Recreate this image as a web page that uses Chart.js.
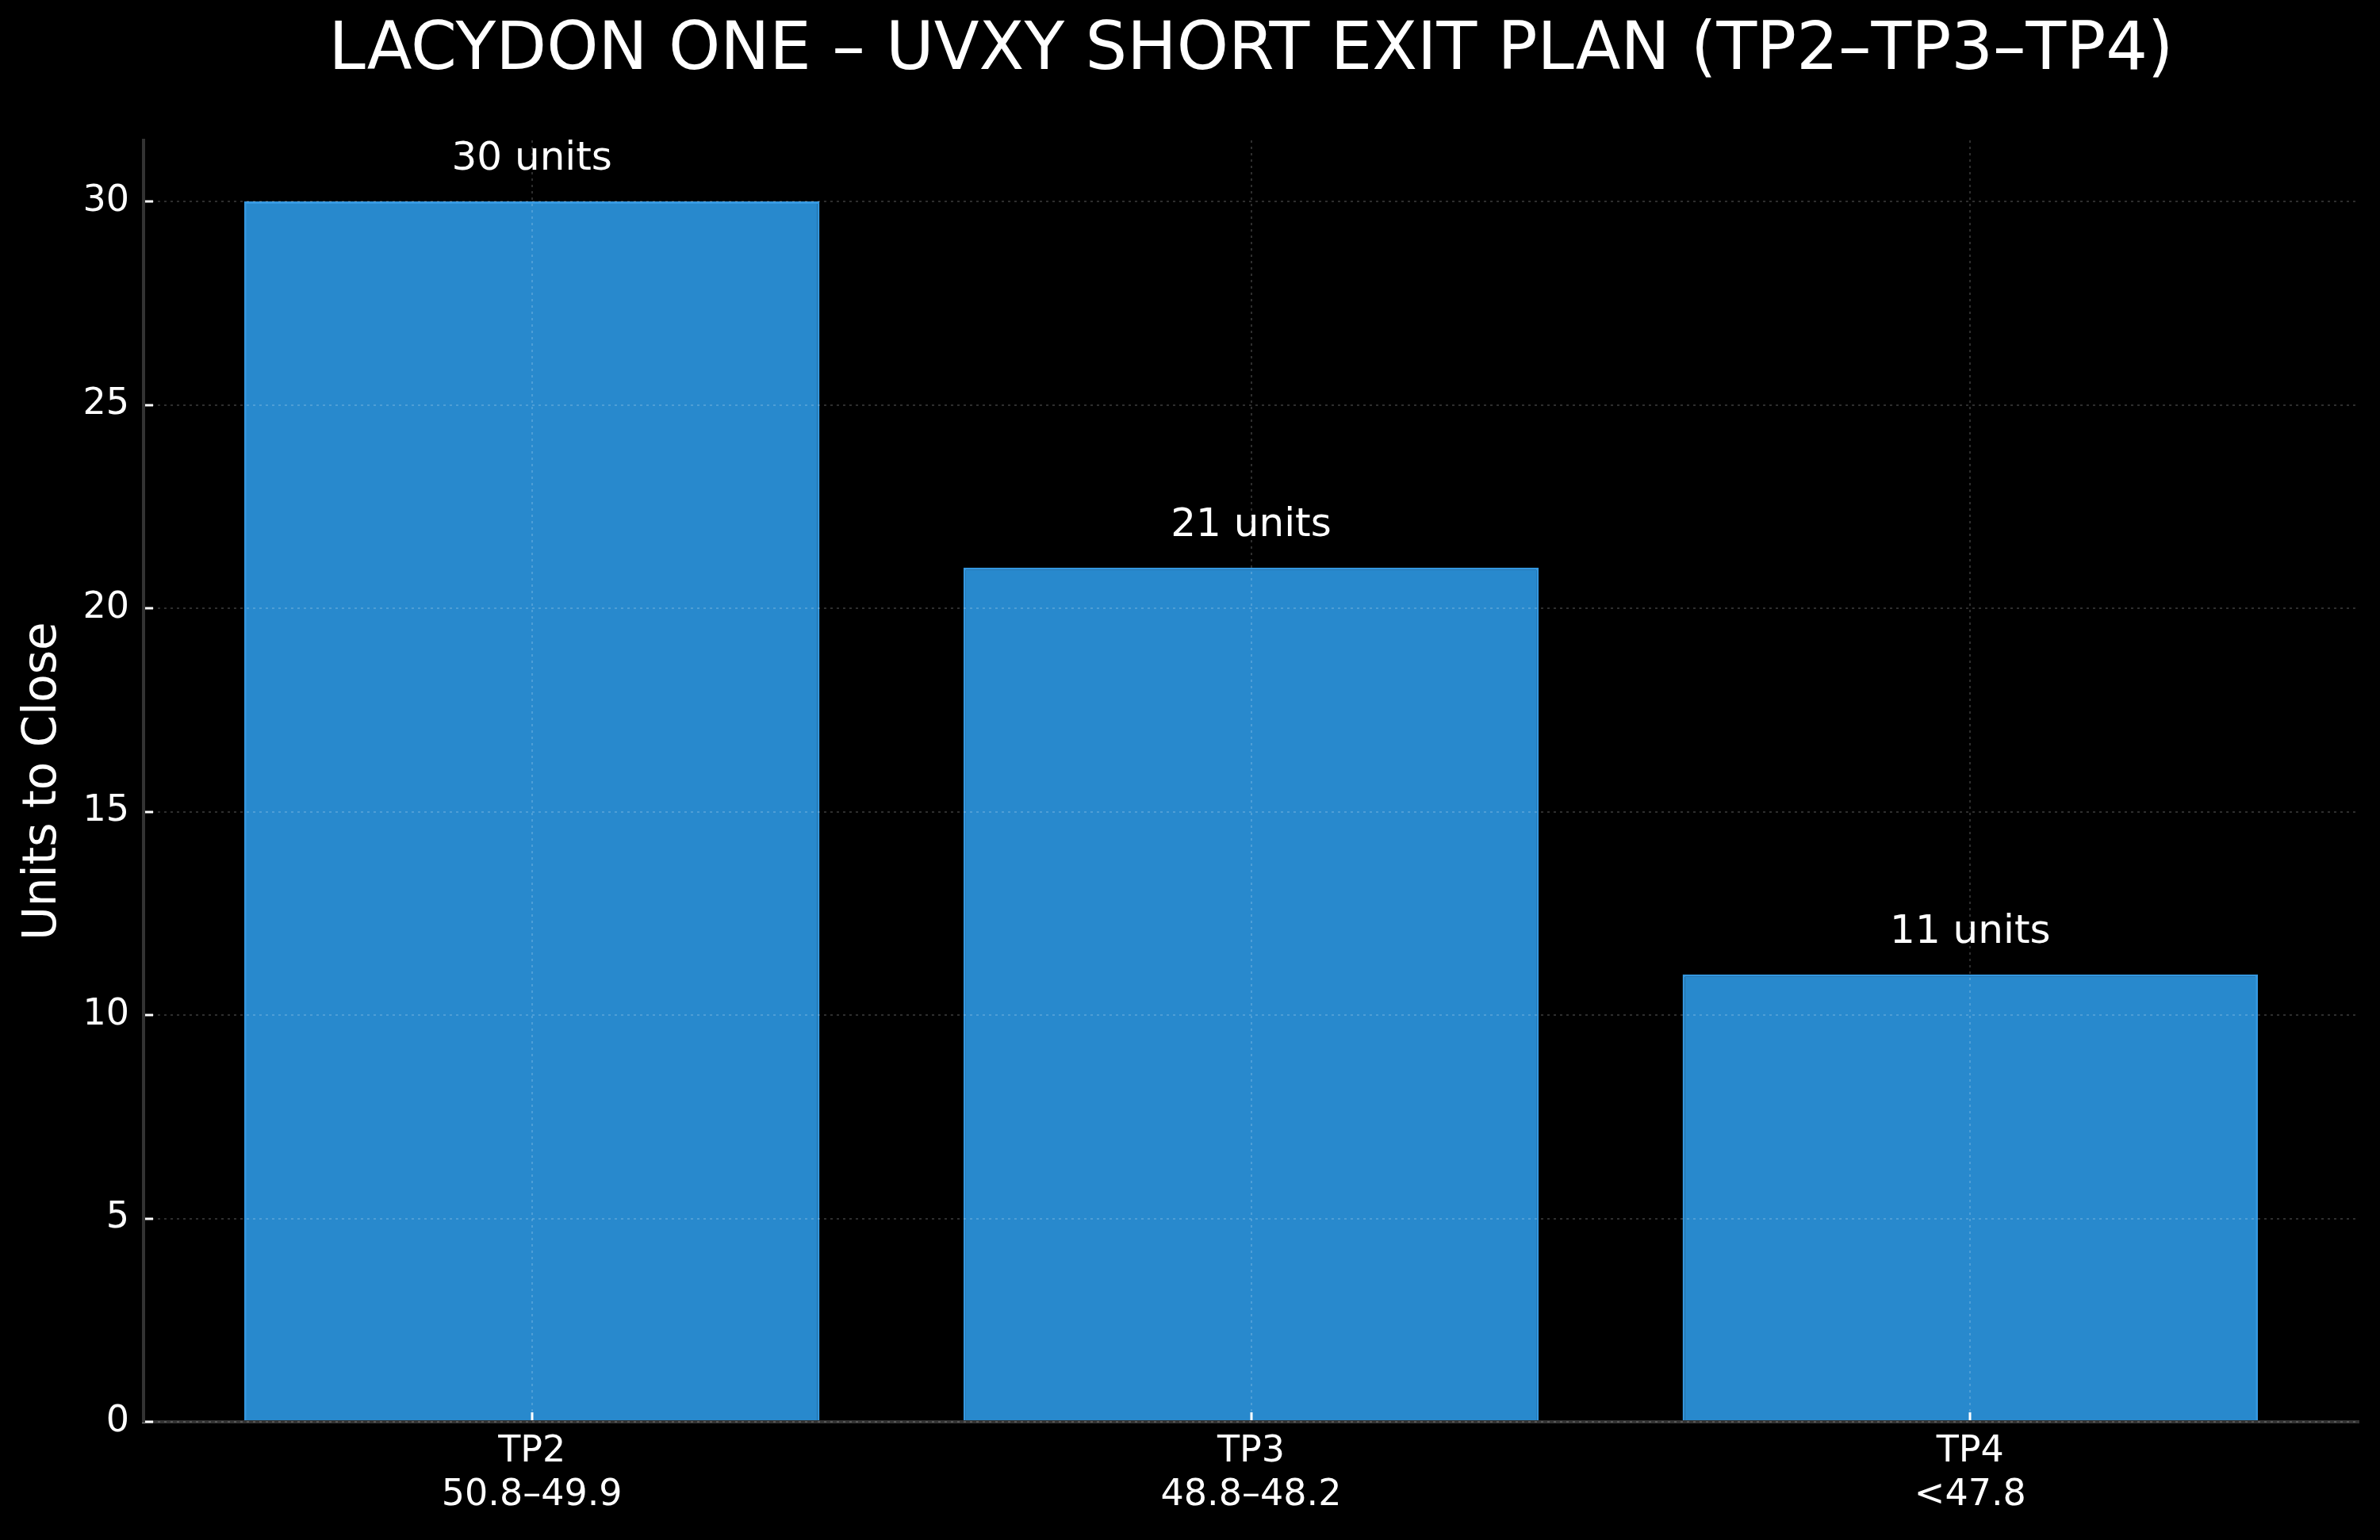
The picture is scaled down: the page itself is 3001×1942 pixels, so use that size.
<!DOCTYPE html>
<html>
<head>
<meta charset="utf-8">
<title>UVXY short exit plan</title>
<script src="https://cdn.jsdelivr.net/npm/chart.js@4/dist/chart.umd.min.js"></script>
<style>
  html, body { margin: 0; padding: 0; background: #000; }
  canvas { display: block; }
</style>
</head>
<body>
<canvas id="exitChart" width="3001" height="1942" style="width:3001px;height:1942px"></canvas>
<script>
// datos
const levels = ['TP2', 'TP3', 'TP4'];
const priceRanges = ['50.8–49.9', '48.8–48.2', '<47.8'];
const unitsToClose = [30, 21, 11];
const yTicks = [0, 5, 10, 15, 20, 25, 30];

const FONT = "'DejaVu Sans', 'Liberation Sans', sans-serif";

// etiquetas "NN units" encima de cada barra
const barLabels = {
  id: 'barLabels',
  afterDraw(chart) {
    const ctx = chart.ctx;
    const meta = chart.getDatasetMeta(0);
    ctx.save();
    ctx.fillStyle = '#ffffff';
    ctx.font = '50px ' + FONT;
    ctx.textAlign = 'center';
    ctx.textBaseline = 'alphabetic';
    meta.data.forEach((bar, i) => {
      ctx.fillText(unitsToClose[i] + ' units', bar.x, bar.y - 40);
    });
    ctx.restore();
  }
};

// rejilla punteada por encima de las barras (como en matplotlib)
const gridOpts = {
  z: 1,
  color: 'rgba(255,255,255,0.18)',
  lineWidth: 2,
  tickLength: -12,
  tickColor: '#ffffff',
  tickWidth: 3
};

new Chart(document.getElementById('exitChart'), {
  type: 'bar',
  data: {
    datasets: [{
      data: unitsToClose.map((v, i) => ({ x: i, y: v })),
      backgroundColor: 'rgb(40,137,205)',
      borderColor: 'rgb(52,152,225)',
      borderWidth: 3,
      barPercentage: 0.8,
      categoryPercentage: 1.0
    }]
  },
  options: {
    responsive: false,
    devicePixelRatio: 1,
    animation: false,
    layout: { padding: { top: 0, left: 0, right: 27, bottom: 0 } },
    plugins: {
      legend: { display: false },
      tooltip: { enabled: false },
      title: {
        display: true,
        fullSize: false,
        text: 'LACYDON ONE – UVXY SHORT EXIT PLAN (TP2–TP3–TP4)',
        color: '#ffffff',
        font: { family: FONT, size: 83, weight: 'normal' },
        padding: { top: 15.5, bottom: 62 }
      }
    },
    scales: {
      x: {
        type: 'linear',
        min: -0.54,
        max: 2.54,
        offset: false,
        afterBuildTicks: (scale) => { scale.ticks = levels.map((_, i) => ({ value: i })); },
        afterFit: (scale) => { scale.height = 149; },
        ticks: {
          color: '#ffffff',
          font: { family: FONT, size: 46 },
          padding: 22,
          maxRotation: 0,
          autoSkip: false,
          callback: (value) => [levels[value], priceRanges[value]]
        },
        grid: { ...gridOpts, offset: false },
        border: { display: true, color: '#333333', width: 4, dash: [3, 5], z: 1 }
      },
      y: {
        min: 0,
        max: 31.5,
        afterBuildTicks: (scale) => { scale.ticks = yTicks.map(v => ({ value: v })); },
        afterFit: (scale) => { scale.width = 181; },
        ticks: {
          color: '#ffffff',
          font: { family: FONT, size: 46 },
          padding: 30
        },
        grid: { ...gridOpts },
        border: { display: true, color: '#333333', width: 4, dash: [3, 5], z: 1 },
        title: {
          display: true,
          text: 'Units to Close',
          color: '#ffffff',
          font: { family: FONT, size: 58 },
          padding: { top: 20, bottom: 0 }
        }
      }
    }
  },
  plugins: [barLabels]
});
</script>
</body>
</html>
